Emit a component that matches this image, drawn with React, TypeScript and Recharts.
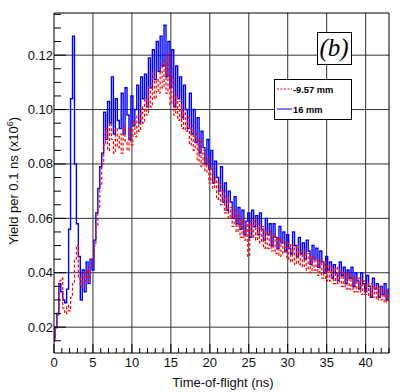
import React from 'react';
import { LineChart, Line, XAxis, YAxis, ReferenceLine } from 'recharts';

// bin width of the sampled spectrum (ns)
const STEP = 0.25;

// 16 mm, t = 0 .. 43 ns
const yield16mm = [
  0.016, 0.020, 0.025, 0.036, 0.033, 0.030, 0.029, 0.034,
  0.056, 0.104, 0.127, 0.080, 0.058, 0.046, 0.030, 0.041,
  0.033, 0.044, 0.036, 0.045, 0.041, 0.052, 0.062, 0.071,
  0.079, 0.084, 0.099, 0.089, 0.103, 0.095, 0.112, 0.091,
  0.104, 0.096, 0.093, 0.106, 0.091, 0.108, 0.098, 0.089,
  0.105, 0.094, 0.100, 0.109, 0.095, 0.112, 0.104, 0.113,
  0.101, 0.119, 0.108, 0.122, 0.111, 0.125, 0.114, 0.127,
  0.116, 0.131, 0.112, 0.125, 0.108, 0.122, 0.101, 0.116,
  0.104, 0.112, 0.097, 0.109, 0.100, 0.093, 0.106, 0.091,
  0.100, 0.088, 0.097, 0.084, 0.092, 0.086, 0.080, 0.089,
  0.078, 0.085, 0.073, 0.081, 0.075, 0.070, 0.079, 0.066,
  0.073, 0.063, 0.070, 0.066, 0.060, 0.068, 0.058, 0.064,
  0.056, 0.063, 0.054, 0.059, 0.062, 0.053, 0.063, 0.057,
  0.061, 0.054, 0.062, 0.056, 0.052, 0.060, 0.054, 0.058,
  0.050, 0.058, 0.053, 0.049, 0.057, 0.051, 0.055, 0.048,
  0.054, 0.049, 0.047, 0.055, 0.050, 0.046, 0.053, 0.047,
  0.051, 0.045, 0.052, 0.048, 0.043, 0.050, 0.045, 0.049,
  0.042, 0.048, 0.044, 0.040, 0.046, 0.041, 0.044, 0.038,
  0.043, 0.040, 0.037, 0.044, 0.039, 0.042, 0.036, 0.041,
  0.038, 0.042, 0.035, 0.040, 0.037, 0.034, 0.040, 0.036,
  0.033, 0.039, 0.035, 0.031, 0.038, 0.034, 0.036, 0.031,
  0.035, 0.032, 0.036, 0.030, 0.034,
];

// -9.57 mm
const yieldMinus957mm = [
  0.015, 0.019, 0.024, 0.037, 0.038, 0.027, 0.025, 0.028,
  0.026, 0.031, 0.036, 0.045, 0.050, 0.038, 0.035, 0.040,
  0.036, 0.041, 0.038, 0.042, 0.045, 0.050, 0.057, 0.064,
  0.072, 0.080, 0.087, 0.093, 0.085, 0.095, 0.089, 0.084,
  0.093, 0.086, 0.091, 0.084, 0.094, 0.088, 0.085, 0.093,
  0.087, 0.096, 0.090, 0.098, 0.092, 0.101, 0.095, 0.104,
  0.098, 0.108, 0.101, 0.114, 0.104, 0.111, 0.106, 0.116,
  0.108, 0.118, 0.106, 0.121, 0.102, 0.112, 0.098, 0.106,
  0.096, 0.103, 0.093, 0.100, 0.092, 0.097, 0.087, 0.094,
  0.085, 0.091, 0.081, 0.089, 0.079, 0.085, 0.077, 0.082,
  0.073, 0.079, 0.071, 0.075, 0.067, 0.073, 0.065, 0.070,
  0.062, 0.068, 0.060, 0.064, 0.057, 0.063, 0.055, 0.061,
  0.053, 0.060, 0.052, 0.058, 0.046, 0.059, 0.053, 0.060,
  0.052, 0.058, 0.051, 0.057, 0.049, 0.056, 0.049, 0.055,
  0.048, 0.054, 0.047, 0.053, 0.046, 0.052, 0.047, 0.051,
  0.045, 0.051, 0.044, 0.050, 0.043, 0.050, 0.043, 0.048,
  0.042, 0.048, 0.041, 0.047, 0.040, 0.046, 0.041, 0.045,
  0.039, 0.045, 0.038, 0.044, 0.037, 0.043, 0.037, 0.042,
  0.036, 0.042, 0.036, 0.041, 0.035, 0.040, 0.034, 0.040,
  0.034, 0.039, 0.033, 0.038, 0.033, 0.038, 0.032, 0.037,
  0.032, 0.036, 0.031, 0.036, 0.031, 0.035, 0.030, 0.035,
  0.030, 0.034, 0.029, 0.033, 0.030,
];

const xMajor = [0, 5, 10, 15, 20, 25, 30, 35, 40];
const yMajor = [0.02, 0.04, 0.06, 0.08, 0.1, 0.12];
const X_DOMAIN: [number, number] = [0, 43];
const Y_DOMAIN: [number, number] = [0.0105, 0.1355];

const xMinor = Array.from({ length: 44 }, (_, i) => i);
const yMinor = Array.from({ length: 25 }, (_, i) => Math.round((0.015 + i * 0.005) * 1000) / 1000);

const rows = yield16mm.map((v, i) => ({
  t: i * STEP,
  blue: v,
  red: yieldMinus957mm[i],
}));

const FONT = "'Liberation Sans', Arial, Helvetica, sans-serif";

const XTick = (props: any) => {
  const { x, y, payload } = props;
  const v = payload.value;
  const major = v % 5 === 0;
  return (
    <g>
      <line x1={x} x2={x} y1={y} y2={y - (major ? 9 : 5)} stroke="#000" strokeWidth={1} />
      {major && (
        <text x={x} y={y + 14} textAnchor="middle" fontFamily={FONT} fontSize={13} fill="#111">
          {v}
        </text>
      )}
    </g>
  );
};

const YTick = (props: any) => {
  const { x, y, payload } = props;
  const v = payload.value;
  const major = Math.round(v * 1000) % 20 === 0;
  return (
    <g>
      <line x1={x} x2={x + (major ? 12 : 7)} y1={y} y2={y} stroke="#000" strokeWidth={1} />
      {major && (
        <text x={x - 1} y={y + 4.5} textAnchor="end" fontFamily={FONT} fontSize={13} fill="#111">
          {v.toFixed(2)}
        </text>
      )}
    </g>
  );
};

export default function App() {
  return (
    <div style={{ position: 'absolute', left: 0, top: 0, width: 400, height: 392, background: '#fff' }}>
      <LineChart width={400} height={392} data={rows} margin={{ top: 13, right: 11, bottom: 0, left: 0 }}>
        <XAxis
          type="number"
          dataKey="t"
          domain={X_DOMAIN}
          ticks={xMinor}
          interval={0}
          tick={<XTick />}
          tickLine={false}
          tickSize={0}
          tickMargin={0}
          height={39}
          axisLine={{ stroke: '#000' }}
          allowDataOverflow
        />
        <YAxis
          type="number"
          domain={Y_DOMAIN}
          ticks={yMinor}
          interval={0}
          tick={<YTick />}
          tickLine={false}
          tickSize={0}
          tickMargin={0}
          width={54}
          axisLine={{ stroke: '#000' }}
          allowDataOverflow
        />
        {xMajor.slice(1).map((v) => (
          <ReferenceLine key={'gx' + v} x={v} stroke="#333" strokeWidth={1} />
        ))}
        {yMajor.map((v) => (
          <ReferenceLine key={'gy' + v} y={v} stroke="#333" strokeWidth={1} />
        ))}
        <ReferenceLine x={X_DOMAIN[1]} stroke="#000" strokeWidth={1} />
        <ReferenceLine y={Y_DOMAIN[1]} stroke="#000" strokeWidth={1} />
        <Line
          type="step"
          dataKey="blue"
          stroke="#0000ff"
          strokeWidth={1.4}
          dot={false}
          isAnimationActive={false}
        />
        <Line
          type="step"
          dataKey="red"
          stroke="#ff0000"
          strokeWidth={1.2}
          strokeDasharray="3 2"
          dot={false}
          isAnimationActive={false}
        />
      </LineChart>
      <svg
        width={400}
        height={392}
        style={{ position: 'absolute', left: 0, top: 0, pointerEvents: 'none' }}
      >
        {/* panel label */}
        <rect x={317.5} y={32.5} width={34} height={32} fill="#fff" stroke="#000" strokeWidth={1} />
        <text x={334} y={56} textAnchor="middle" fontFamily="'Liberation Serif', 'Times New Roman', serif" fontStyle="italic" fontSize={25} fill="#000">
          (b)
        </text>
        {/* legend */}
        <rect x={274.5} y={79.5} width={77} height={40} fill="#fff" stroke="#000" strokeWidth={1} />
        <line x1={277} x2={292} y1={89} y2={89} stroke="#ff0000" strokeWidth={1} strokeDasharray="2 1.5" />
        <text x={293} y={92.5} fontFamily={FONT} fontWeight="bold" fontSize={9.3} fill="#000">-9.57 mm</text>
        <line x1={277} x2={292} y1={109} y2={109} stroke="#0000ff" strokeWidth={1} />
        <text x={293} y={112.5} fontFamily={FONT} fontWeight="bold" fontSize={9.3} fill="#000">16 mm</text>
        {/* axis titles */}
        <text x={223} y={387} textAnchor="middle" fontFamily={FONT} fontSize={13} fill="#111">
          Time-of-flight (ns)
        </text>
        <text transform="translate(18,181) rotate(-90)" textAnchor="middle" fontFamily={FONT} fontSize={13} fill="#111">
          <tspan>Yield per 0.1 ns (x10</tspan>
          <tspan dy={-5} fontSize={9}>6</tspan>
          <tspan dy={5}>)</tspan>
        </text>
      </svg>
    </div>
  );
}
